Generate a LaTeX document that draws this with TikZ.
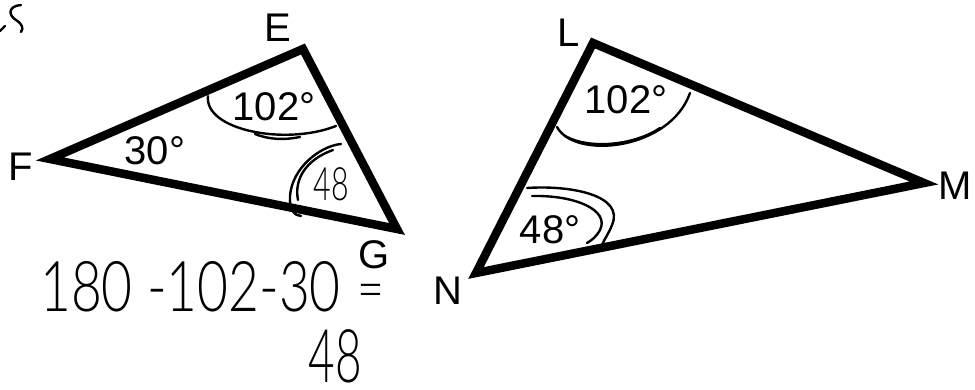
\documentclass[tikz,border=0pt]{standalone}
\usepackage{fontspec}
\setmainfont{Liberation Sans}
\newfontfamily\hand{Lato Light}
\begin{document}
\begin{tikzpicture}[x=1pt,y=-1pt,
  tri/.style={line width=8.5pt,line join=miter},
  pen/.style={line width=2.4pt,line cap=round},
  lab/.style={inner sep=0pt,font=\fontsize{40}{40}\selectfont},
  hw/.style={inner sep=0pt}]
\useasboundingbox[fill=white] (0,0) rectangle (975,390);
% vertices
\coordinate (E) at (303,49);
\coordinate (F) at (50,159);
\coordinate (G) at (397,229);
\coordinate (L) at (593,43);
\coordinate (M) at (924,183);
\coordinate (N) at (476,273);
\draw[tri] (E) -- (F) -- (G) -- cycle;
\draw[tri] (L) -- (M) -- (N) -- cycle;
% vertex labels
\node[lab] (lE) at (278,28) {E};
\node[lab] (lF) at (21,167) {F};
\node[lab,text depth=0pt] (lG) at (374,255) {G};
\node[lab] (lL) at (569,33) {L};
\node[lab] (lM) at (955,186) {M};
\node[lab] (lN) at (448,291) {N};
% angle labels
\node[lab] (a1) at (274,107) {102°};
\node[lab] (a2) at (155,151) {30°};
\node[lab] (a3) at (626,100) {102°};
\node[lab] (a4) at (550,230) {48°};
% handwritten arcs, left triangle
\draw[pen] (208,96) .. controls (204,130) and (285,146) .. (336,126);
\draw[pen] (255,134) .. controls (270,140) and (285,140) .. (300,137);
\draw[pen] (341,144) .. controls (320,146) and (292,168) .. (290,196) .. controls (289,210) and (295,216) .. (301,216);
\draw[pen] (333,150) .. controls (305,160) and (294,180) .. (298,200);
% handwritten arcs, right triangle
\draw[pen] (557,127) .. controls (575,160) and (670,150) .. (690,93);
\draw[pen] (565,136) .. controls (590,150) and (635,145) .. (660,128);
\draw[pen] (527,188) .. controls (570,185) and (625,195) .. (612,225) .. controls (609,233) and (605,238) .. (602,245);
\draw[pen] (532,196) .. controls (575,195) and (610,210) .. (600,230) .. controls (596,237) and (592,240) .. (587,243);
% corner mark
\draw[pen] (21,5) .. controls (8,6) and (8,15) .. (16,20) .. controls (22,24) and (24,28) .. (21,32);
\draw[pen] (0,31) -- (5,26);
% handwritten text
\node[hw,xscale=0.66,font=\hand\fontsize{46}{46}\selectfont] (h1) at (331,184) {48};
\node[hw,xscale=0.76,font=\hand\fontsize{70}{70}\selectfont,anchor=west] (h2) at (40,287) {180 -102-30};
\node[hw,xscale=0.8,font=\hand\fontsize{58}{58}\selectfont,text height=18pt,text depth=0pt] (h3) at (371,300) {=};
\node[hw,xscale=0.62,font=\hand\fontsize{74}{74}\selectfont,text depth=0pt,anchor=base] (h4) at (335,382) {48};
\end{tikzpicture}
\end{document}
